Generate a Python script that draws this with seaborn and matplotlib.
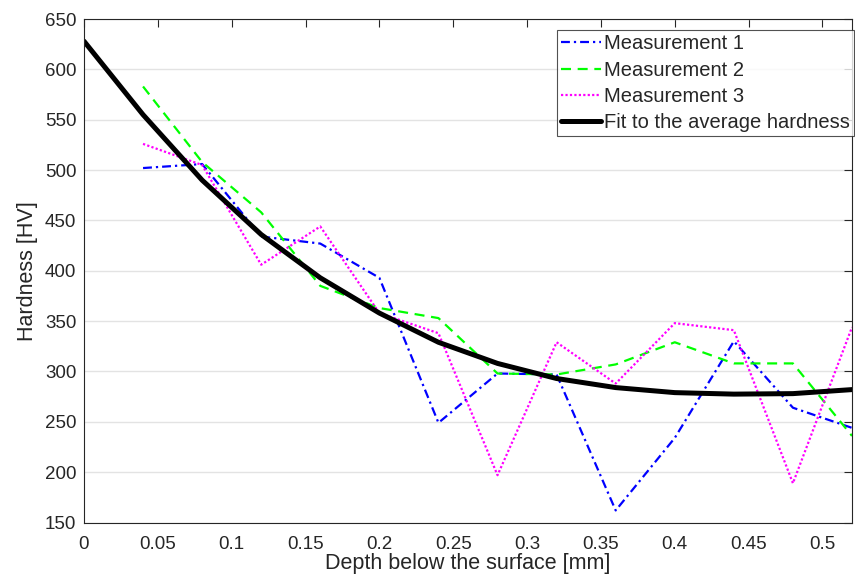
import matplotlib
matplotlib.use("Agg")
import matplotlib.pyplot as plt
import numpy as np
import pandas as pd
import seaborn as sns

# depth below the surface [mm]
DEPTH = [0.04, 0.08, 0.12, 0.16, 0.20, 0.24, 0.28, 0.32, 0.36, 0.40, 0.44, 0.48, 0.52]
FIT_DEPTH = [0.0] + DEPTH

# hardness readings [HV]
MEAS_1 = [502, 506, 434, 427, 393, 249, 298, 297, 162, 234, 330, 264, 244]
MEAS_2 = [583, 508, 458, 385, 363, 353, 298, 297, 307, 329, 308, 308, 236]
MEAS_3 = [526, 505, 406, 444, 358, 338, 197, 329, 288, 348, 341, 189, 344]
FIT = [628, 555, 490, 436, 393, 358, 329, 308, 293, 284, 279, 277.5, 278, 282]

INK = "#262626"


def main() -> None:
    sns.set_style("white")
    plt.rcParams["font.family"] = ["Liberation Sans", "DejaVu Sans"]

    fig, ax = plt.subplots(figsize=(8.55, 5.85), dpi=100)
    fig.subplots_adjust(left=0.0982, right=0.9965, top=0.9675, bottom=0.1068)

    meas = pd.DataFrame({"depth": DEPTH, "m1": MEAS_1, "m2": MEAS_2, "m3": MEAS_3})
    fit = pd.DataFrame({"depth": FIT_DEPTH, "fit": FIT})

    sns.lineplot(data=meas, x="depth", y="m1", color="#0000ff", lw=1.6, ax=ax,
                 label="Measurement 1")
    ax.lines[-1].set_linestyle((0, (4, 1.8, 1, 1.8)))
    sns.lineplot(data=meas, x="depth", y="m2", color="#00ff00", lw=1.6, ax=ax,
                 label="Measurement 2")
    ax.lines[-1].set_linestyle((0, (4.5, 3)))
    sns.lineplot(data=meas, x="depth", y="m3", color="#ff00ff", lw=1.6, ax=ax,
                 label="Measurement 3")
    ax.lines[-1].set_linestyle((0, (1, 1)))
    sns.lineplot(data=fit, x="depth", y="fit", color="black", lw=3.6, ax=ax,
                 label="Fit to the average hardness")

    ax.set_xlim(0, 0.52)
    ax.set_ylim(150, 650)
    ax.set_xticks(np.arange(0, 0.51, 0.05))
    ax.set_xticklabels(["0", "0.05", "0.1", "0.15", "0.2", "0.25", "0.3", "0.35", "0.4", "0.45", "0.5"])
    ax.set_yticks(np.arange(150, 651, 50))
    ax.yaxis.grid(True, color="#e3e3e3", lw=1)
    ax.xaxis.grid(False)
    ax.tick_params(direction="in", length=5.5, width=0.8, top=True, right=True,
                   labelsize=13.5, colors=INK)
    ax.tick_params(axis="x", pad=10)
    ax.tick_params(axis="y", pad=5.5)
    for s in ax.spines.values():
        s.set_color(INK)
        s.set_linewidth(0.8)

    ax.set_xlabel("Depth below the surface [mm]", fontsize=15.5, color=INK, labelpad=0)
    ax.set_ylabel("Hardness [HV]", fontsize=15.5, color=INK, labelpad=5)

    leg = ax.legend(loc="upper right", bbox_to_anchor=(1.003, 0.978), fontsize=14.5,
                    frameon=True, fancybox=False, handlelength=2.0, handletextpad=0.15,
                    borderpad=0.2, labelspacing=0.37, borderaxespad=0)
    leg.get_frame().set_edgecolor(INK)
    leg.get_frame().set_linewidth(0.8)

    fig.savefig("out.png", dpi=100)


if __name__ == "__main__":
    main()
